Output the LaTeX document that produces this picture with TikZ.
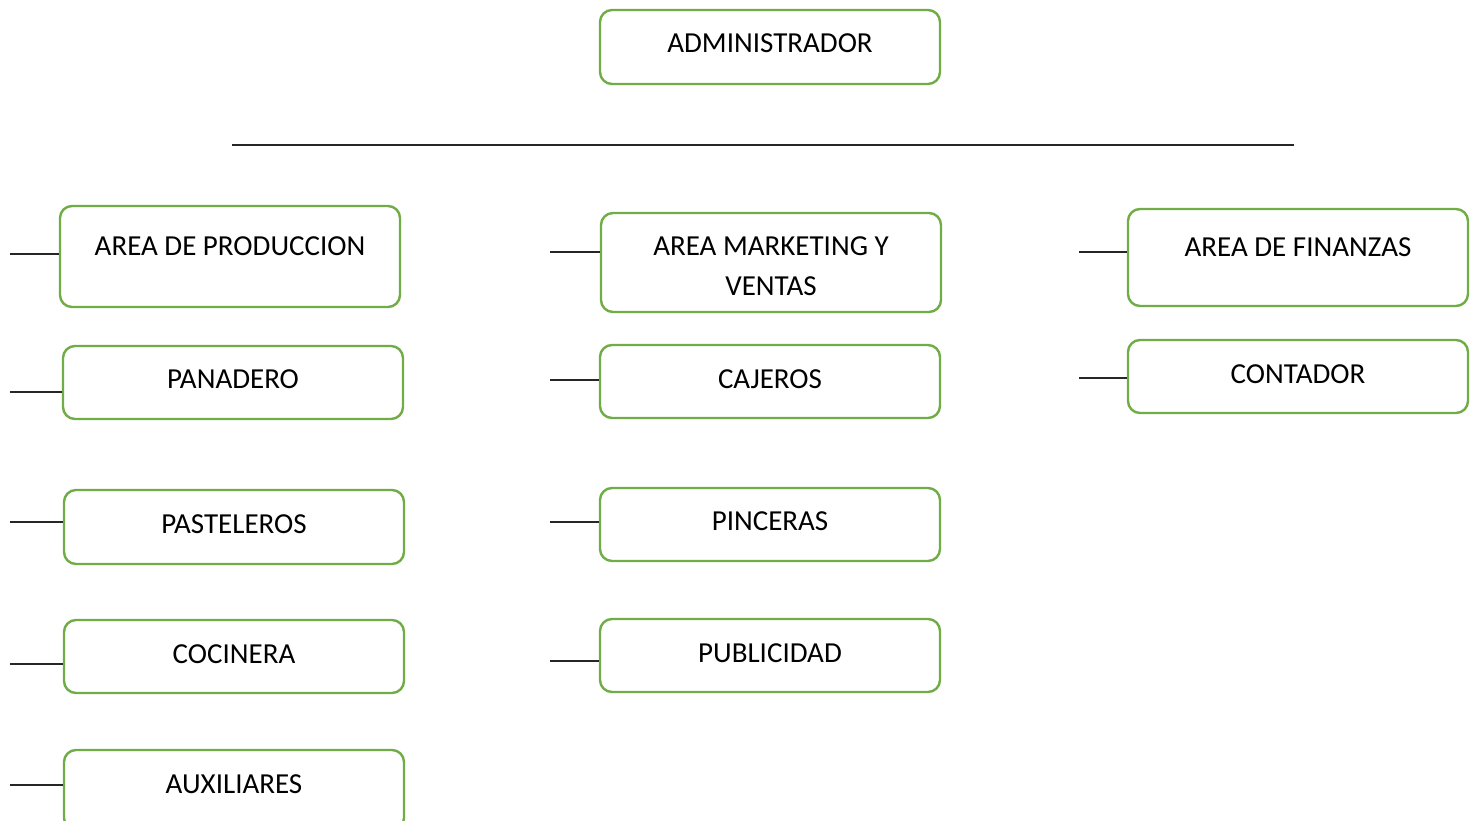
\documentclass[tikz,border=0pt]{standalone}
\usepackage{fontspec}
\setmainfont{Carlito}
\definecolor{boxgreen}{HTML}{70AD47}
\begin{document}
\begin{tikzpicture}[x=1pt,y=-1pt,
  box/.style={draw=boxgreen,line width=2.4pt,rounded corners=12pt,inner sep=0pt},
  txt/.style={inner sep=0pt,font=\fontsize{29}{40}\selectfont,align=center,anchor=base},
  stub/.style={draw=black!85,line width=1.2pt}]
\useasboundingbox (0,0) rectangle (1470,821);
% boxes: name, center, width, height
\node[box,minimum width=340pt,minimum height=74pt] (adm) at (770,47) {};
\node[box,minimum width=340pt,minimum height=101pt] (prod) at (230,256.5) {};
\node[box,minimum width=340pt,minimum height=99pt] (mkt) at (771,262.5) {};
\node[box,minimum width=340pt,minimum height=97pt] (fin) at (1298,257.5) {};
\node[box,minimum width=340pt,minimum height=73pt] (pan) at (233,382.5) {};
\node[box,minimum width=340pt,minimum height=73pt] (caj) at (770,381.5) {};
\node[box,minimum width=340pt,minimum height=73pt] (con) at (1298,376.5) {};
\node[box,minimum width=340pt,minimum height=74pt] (pas) at (234,527) {};
\node[box,minimum width=340pt,minimum height=73pt] (pin) at (770,524.5) {};
\node[box,minimum width=340pt,minimum height=73pt] (coc) at (234,656.5) {};
\node[box,minimum width=340pt,minimum height=73pt] (pub) at (770,655.5) {};
\node[box,minimum width=340pt,minimum height=80pt] (aux) at (234,790) {};
% texts
\node[txt] (tadm) at (770,53) {ADMINISTRADOR};
\node[txt] (tprod) at (230,255) {AREA DE PRODUCCION};
\node[txt] (tmkt) at (771,295) {AREA MARKETING Y\\VENTAS};
\node[txt] (tfin) at (1298,256) {AREA DE FINANZAS};
\node[txt] (tpan) at (233,388) {PANADERO};
\node[txt] (tcaj) at (770,388) {CAJEROS};
\node[txt] (tcon) at (1298,383) {CONTADOR};
\node[txt] (tpas) at (234,533) {PASTELEROS};
\node[txt] (tpin) at (770,530) {PINCERAS};
\node[txt] (tcoc) at (234,663) {COCINERA};
\node[txt] (tpub) at (770,662) {PUBLICIDAD};
\node[txt] (taux) at (234,793) {AUXILIARES};
% main horizontal line
\coordinate (hl) at (232,145);
\coordinate (hr) at (1294,145);
\draw[stub] (hl) -- (hr);
% stubs
\coordinate (sprod) at (10,254);
\coordinate (span) at (10,392);
\coordinate (spas) at (10,522);
\coordinate (scoc) at (10,664);
\coordinate (saux) at (10,785);
\coordinate (smkt) at (550,252);
\coordinate (scaj) at (550,380);
\coordinate (spin) at (550,522);
\coordinate (spub) at (550,661);
\coordinate (sfin) at (1079,252);
\coordinate (scon) at (1079,378);
\foreach \s/\b in {sprod/prod,span/pan,spas/pas,scoc/coc,saux/aux,smkt/mkt,scaj/caj,spin/pin,spub/pub,sfin/fin,scon/con}
  \draw[stub] (\s) -- (\b.west |- \s);
\end{tikzpicture}
\end{document}
